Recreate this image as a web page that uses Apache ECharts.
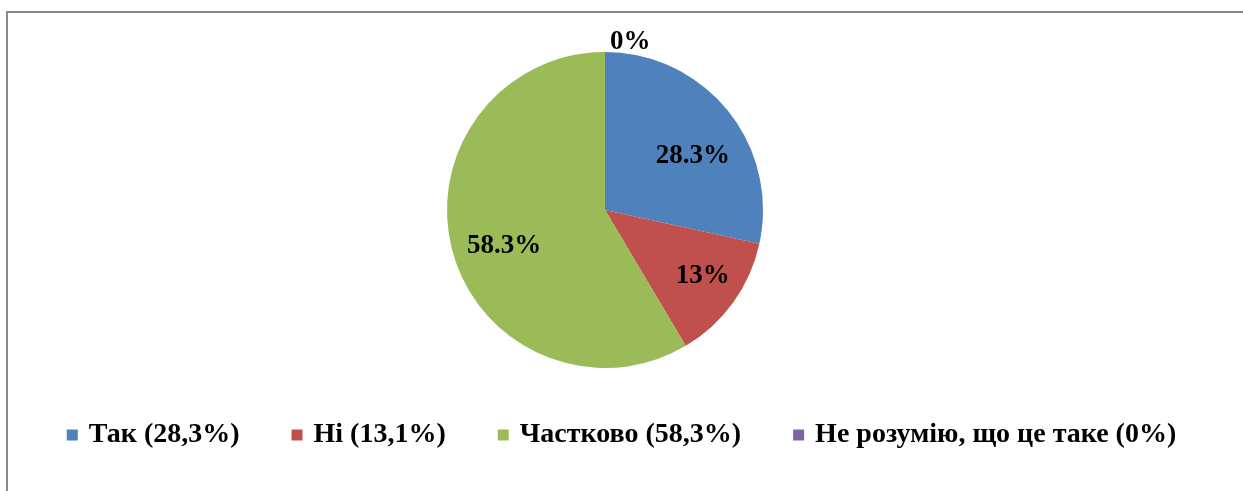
<!DOCTYPE html>
<html>
<head>
<meta charset="utf-8">
<script src="https://cdn.jsdelivr.net/npm/echarts@6/dist/echarts.min.js"></script>
<style>
  html, body { margin: 0; padding: 0; background: #fff; }
  #chart { width: 1243px; height: 491px; }
</style>
</head>
<body>
<div id="chart"></div>
<script>
// Survey answers and their shares (%)
const categories = ['Так (28,3%)', 'Ні (13,1%)', 'Частково (58,3%)', 'Не розумію, що це таке (0%)'];
const values = [28.3, 13, 58.3, 0];
const colors = ['#4F81BD', '#C0504D', '#9BBB59', '#8064A2'];
// Small nudges for the in-slice labels [dx, dy]
const labelNudge = [[0, 17], [6, 0], [8, 6], [0, 0]];

const FONT = '"Liberation Serif", "Times New Roman", serif';
const CENTER = [605, 210];
const R = 158;

const labelText = {
  fontFamily: FONT,
  fontWeight: 'bold',
  fontSize: 27,
  color: '#000'
};

// Main pie: colored sectors; only zero-share answers get an outside label
const mainData = categories.map((name, i) => ({
  name,
  value: values[i],
  itemStyle: { color: colors[i] },
  label: values[i] === 0
    ? { show: true, position: 'outside', ...labelText, formatter: '{c}%' }
    : { show: false },
  labelLine: { show: false, length: 10, length2: 0 }
}));

// Transparent ring over the pie whose mid-radius carries the in-slice labels
const labelData = categories.map((name, i) => ({
  name,
  value: values[i],
  itemStyle: { color: 'rgba(0,0,0,0)' },
  label: {
    show: values[i] !== 0,
    position: 'inside',
    offset: labelNudge[i],
    ...labelText,
    formatter: '{c}%'
  }
}));

const chart = echarts.init(document.getElementById('chart'), null, { renderer: 'canvas' });
chart.setOption({
  animation: false,
  backgroundColor: '#fff',
  color: colors,
  graphic: [{
    type: 'rect',
    silent: true,
    shape: { x: 7, y: 12, width: 1400, height: 700 },
    style: { fill: 'none', stroke: '#8a8a8a', lineWidth: 2 }
  }],
  legend: {
    data: categories,
    left: 'center',
    top: 416,
    icon: 'rect',
    itemWidth: 11,
    itemHeight: 11,
    itemGap: 52,
    textStyle: {
      fontFamily: FONT,
      fontWeight: 'bold',
      fontSize: 28,
      color: '#000',
      padding: [0, 0, 0, 6]
    },
    selectedMode: false
  },
  series: [
    {
      type: 'pie',
      center: CENTER,
      radius: [0, R],
      startAngle: 90,
      clockwise: true,
      avoidLabelOverlap: false,
      minShowLabelAngle: 0,
      itemStyle: { borderWidth: 0 },
      emphasis: { disabled: true },
      data: mainData
    },
    {
      type: 'pie',
      center: CENTER,
      radius: [62, R],
      startAngle: 90,
      clockwise: true,
      silent: true,
      avoidLabelOverlap: false,
      itemStyle: { borderWidth: 0 },
      emphasis: { disabled: true },
      data: labelData
    }
  ]
});
</script>
</body>
</html>
